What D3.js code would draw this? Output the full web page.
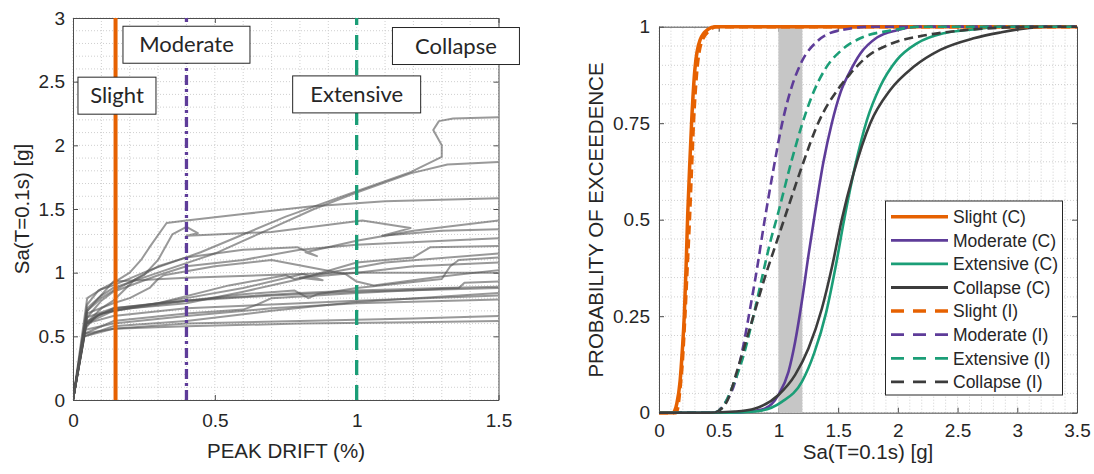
<!DOCTYPE html>
<html>
<head>
<meta charset="utf-8">
<script src="https://cdn.jsdelivr.net/npm/d3@7"></script>
<style>
  body { margin: 0; background: #fff; }
  svg text { font-family: "Liberation Sans", Arial, sans-serif; fill: #262626; }
</style>
</head>
<body>
<svg id="chart" width="1094" height="474"></svg>
<script>
// ---------------- data: left panel (pushover curves) ----------------
const driftTicks = [0, 0.5, 1, 1.5];
const saTicksLeft = [0, 0.5, 1, 1.5, 2, 2.5, 3];

// damage-state drift thresholds (%)
const stateNames = ['Slight', 'Moderate', 'Extensive', 'Collapse'];
const stateDrifts = [0.15, 0.4, 1.0, 2.0];
// label anchors (drift, Sa) for the boxed names
const labelDrifts = [0.155, 0.40, 1.0, 1.35];
const labelSas = [2.39, 2.79, 2.40, 2.78];

// each curve: [peak drift %, Sa g]
const pushoverCurves = [
  [[0,0],[0.05,0.8],[0.1,0.87],[0.142,0.9],[0.27,1.02],[0.45,1.16],[0.6,1.3],[0.75,1.44],[0.9,1.56],[1.0,1.64],[1.19,1.79],[1.30,1.91],[1.30,2.0],[1.27,2.12],[1.29,2.19],[1.34,2.21],[1.5,2.22]],
  [[0,0],[0.05,0.72],[0.1,0.82],[0.142,0.88],[0.3,1.0],[0.5,1.15],[0.7,1.35],[0.85,1.5],[1.0,1.63],[1.19,1.78],[1.32,1.85],[1.5,1.87]],
  [[0,0],[0.05,0.75],[0.09,0.86],[0.142,0.92],[0.2,1.0],[0.24,1.1],[0.27,1.2],[0.33,1.39],[0.4,1.41],[0.6,1.46],[0.835,1.52],[1.1,1.56],[1.5,1.585]],
  [[0,0],[0.05,0.7],[0.1,0.8],[0.142,0.86],[0.25,0.98],[0.3,1.1],[0.35,1.3],[0.4,1.36],[0.44,1.31],[0.4,1.29],[0.5,1.3],[0.7,1.32],[1.02,1.41],[1.19,1.35],[1.09,1.29],[1.3,1.33],[1.5,1.34]],
  [[0,0],[0.045,0.6],[0.1,0.72],[0.142,0.78],[0.22,0.95],[0.3,1.05],[0.4,1.12],[0.6,1.18],[0.79,1.2],[0.86,1.13],[0.82,1.16],[1.0,1.25],[1.2,1.33],[1.5,1.41]],
  [[0,0],[0.05,0.65],[0.1,0.78],[0.142,0.85],[0.3,0.98],[0.4,1.05],[0.6,1.1],[0.8,1.18],[1.0,1.22],[1.5,1.27]],
  [[0,0],[0.045,0.6],[0.1,0.68],[0.2,0.72],[0.4,0.76],[0.6,0.85],[0.8,0.95],[1.0,1.08],[1.2,1.12],[1.26,1.2],[1.5,1.21]],
  [[0,0],[0.05,0.62],[0.142,0.72],[0.4,0.78],[0.6,0.83],[0.78,0.86],[0.83,0.8],[0.86,0.83],[1.0,0.88],[1.3,0.95],[1.33,1.05],[1.36,1.1],[1.5,1.12]],
  [[0,0],[0.05,0.7],[0.142,0.93],[0.4,0.96],[0.8,0.99],[1.0,1.0],[1.3,1.0],[1.5,1.0]],
  [[0,0],[0.04,0.55],[0.08,0.66],[0.142,0.71],[0.3,0.76],[0.5,0.8],[0.8,0.84],[1.0,0.86],[1.3,0.88],[1.5,0.89]],
  [[0,0],[0.045,0.58],[0.09,0.67],[0.142,0.7],[0.4,0.78],[0.7,0.82],[1.0,0.85],[1.5,0.88]],
  [[0,0],[0.04,0.52],[0.142,0.62],[0.4,0.68],[0.6,0.71],[0.65,0.75],[0.7,0.8],[1.0,0.84],[1.36,0.88],[1.38,0.92],[1.5,0.93]],
  [[0,0],[0.04,0.5],[0.142,0.58],[0.4,0.62],[0.7,0.7],[1.0,0.77],[1.5,0.84]],
  [[0,0],[0.04,0.5],[0.142,0.56],[0.4,0.6],[0.8,0.62],[1.2,0.64],[1.5,0.66]],
  [[0,0],[0.04,0.52],[0.142,0.56],[0.4,0.58],[0.8,0.6],[1.2,0.61],[1.5,0.62]],
  [[0,0],[0.04,0.55],[0.142,0.6],[0.4,0.66],[0.7,0.72],[1.0,0.76],[1.5,0.79]],
  [[0,0],[0.045,0.6],[0.142,0.66],[0.4,0.72],[0.7,0.75],[1.0,0.78],[1.5,0.82]],
  [[0,0],[0.05,0.65],[0.142,0.72],[0.3,0.76],[0.55,0.9],[0.75,0.98],[0.78,0.95],[0.9,1.0],[1.1,1.08],[1.5,1.15]],
  [[0,0],[0.045,0.6],[0.142,0.7],[0.4,0.8],[0.6,0.88],[0.81,0.99],[0.88,0.94],[0.8,0.96],[1.0,1.0],[1.2,1.05],[1.5,1.08]],
  [[0,0],[0.05,0.68],[0.142,0.76],[0.2,0.8],[0.27,0.88],[0.3,0.95],[0.32,0.98],[0.5,1.05],[0.7,1.1],[0.96,0.99],[1.0,0.93],[1.06,0.9],[1.3,0.97],[1.5,1.02]]
];

// ---------------- data: right panel (fragility curves) ----------------
const saTicksRight = [0, 0.5, 1, 1.5, 2, 2.5, 3, 3.5];
const probTicks = [0, 0.25, 0.5, 0.75, 1];
const shadedBand = [1.0, 1.2];

// each curve: [Sa g, probability of exceedence]
const slightC = [[0,0],[0.12,0],[0.134,0.007],[0.15,0.025],[0.176,0.08],[0.195,0.16],[0.212,0.253],[0.227,0.38],[0.24,0.51],[0.257,0.64],[0.274,0.758],[0.3,0.888],[0.344,0.966],[0.41,0.993],[0.47,1],[3.5,1]];
const moderateC = [[0,0],[0.6,0],[0.75,0.003],[0.888,0.011],[1.0,0.046],[1.084,0.106],[1.14,0.184],[1.196,0.288],[1.252,0.409],[1.3,0.505],[1.377,0.65],[1.447,0.75],[1.52,0.83],[1.601,0.885],[1.685,0.93],[1.825,0.972],[1.992,0.991],[2.16,1],[3.5,1]];
const extensiveC = [[0,0],[0.6,0],[0.805,0.003],[1.028,0.028],[1.196,0.08],[1.3,0.155],[1.4,0.26],[1.48,0.38],[1.55,0.5],[1.643,0.64],[1.741,0.758],[1.852,0.845],[1.992,0.914],[2.16,0.957],[2.383,0.983],[2.635,0.993],[2.86,1],[3.5,1]];
const collapseC = [[0,0],[0.4,0],[0.637,0.003],[0.805,0.011],[1.0,0.046],[1.14,0.098],[1.252,0.167],[1.364,0.27],[1.45,0.38],[1.53,0.5],[1.629,0.62],[1.769,0.75],[1.936,0.836],[2.132,0.896],[2.355,0.94],[2.635,0.97],[2.858,0.985],[3.1,0.997],[3.3,1],[3.5,1]];
const slightI = [[0,0],[0.14,0],[0.155,0.01],[0.175,0.06],[0.195,0.13],[0.215,0.24],[0.235,0.37],[0.255,0.5],[0.272,0.63],[0.29,0.76],[0.315,0.88],[0.355,0.96],[0.42,0.99],[0.48,1],[3.5,1]];
const moderateI = [[0,0],[0.45,0],[0.5,0.005],[0.54,0.02],[0.637,0.08],[0.707,0.175],[0.763,0.27],[0.819,0.37],[0.88,0.49],[0.958,0.63],[1.028,0.745],[1.112,0.845],[1.196,0.91],[1.335,0.965],[1.503,0.99],[1.8,1],[3.5,1]];
const extensiveI = [[0,0],[0.45,0],[0.52,0.01],[0.609,0.063],[0.7,0.14],[0.805,0.27],[0.87,0.36],[0.93,0.44],[1.0,0.52],[1.112,0.655],[1.196,0.745],[1.28,0.82],[1.391,0.89],[1.531,0.94],[1.685,0.97],[1.936,0.99],[2.215,1],[3.5,1]];
const collapseI = [[0,0],[0.45,0],[0.5,0.005],[0.567,0.028],[0.665,0.12],[0.777,0.236],[0.888,0.352],[0.99,0.447],[1.09,0.54],[1.196,0.637],[1.335,0.752],[1.503,0.84],[1.601,0.878],[1.741,0.922],[1.936,0.955],[2.215,0.977],[2.495,0.989],[2.83,0.997],[3.2,1],[3.5,1]];

const fragilityNames = ['Slight (C)', 'Moderate (C)', 'Extensive (C)', 'Collapse (C)',
                        'Slight (I)', 'Moderate (I)', 'Extensive (I)', 'Collapse (I)'];
const fragilityCurves = [slightC, moderateC, extensiveC, collapseC, slightI, moderateI, extensiveI, collapseI];

// ---------------- styles ----------------
const colors = ['#e66101', '#5e3c99', '#1b9e77', '#3c3c3c'];
const svg = d3.select('#chart');
const fmt = d => d3.format('~g')(d);

// grid + box + ticks for one panel
function drawFrame(x, y, xTicks, yTicks, xMinor, yMinor, xPad, yPad) {
  const g = svg.append('g');
  const [x0, x1] = x.range();
  const [y0, y1] = y.range();
  const xd = x.domain(), yd = y.domain();

  //minor + major grid (dotted)
  g.selectAll('.vx').data(d3.range(xd[0], xd[1] + 1e-9, xMinor)).enter().append('line')
    .attr('x1', d => x(d)).attr('x2', d => x(d)).attr('y1', y0).attr('y2', y1)
    .attr('stroke', '#cfcfcf').attr('stroke-width', 1).attr('stroke-dasharray', '1,2');
  g.selectAll('.hy').data(d3.range(yd[0], yd[1] + 1e-9, yMinor)).enter().append('line')
    .attr('y1', d => y(d)).attr('y2', d => y(d)).attr('x1', x0).attr('x2', x1)
    .attr('stroke', '#cfcfcf').attr('stroke-width', 1).attr('stroke-dasharray', '1,2');

  const axisStyle = sel => {
    sel.selectAll('path').attr('stroke', '#4d4d4d');
    sel.selectAll('line').attr('stroke', '#4d4d4d');
    sel.selectAll('text').attr('font-size', 19).attr('fill', '#262626')
      .style('font-family', '"Liberation Sans", Arial, sans-serif');
  };

  svg.append('g').attr('transform', `translate(0,${y0})`)
    .call(d3.axisBottom(x).tickValues(xTicks).tickFormat(fmt).tickSize(-5).tickSizeOuter(0).tickPadding(xPad))
    .call(axisStyle);
  svg.append('g').attr('transform', `translate(${x0},0)`)
    .call(d3.axisLeft(y).tickValues(yTicks).tickFormat(fmt).tickSize(-5).tickSizeOuter(0).tickPadding(yPad))
    .call(axisStyle);
  svg.append('g').attr('transform', `translate(0,${y1})`)
    .call(d3.axisTop(x).tickValues(xTicks).tickFormat('').tickSize(-5).tickSizeOuter(0))
    .call(axisStyle);
  svg.append('g').attr('transform', `translate(${x1},0)`)
    .call(d3.axisRight(y).tickValues(yTicks).tickFormat('').tickSize(-5).tickSizeOuter(0))
    .call(axisStyle);
  return g;
}

// ================= LEFT PANEL =================
const xL = d3.scaleLinear().domain([0, 1.5]).range([73, 498.5]);
const yL = d3.scaleLinear().domain([0, 3]).range([400, 18]);

drawFrame(xL, yL, driftTicks, saTicksLeft, 0.1, 0.1, 14, 8);

svg.append('clipPath').attr('id', 'clipL').append('rect')
  .attr('x', xL(0)).attr('y', yL(3)).attr('width', xL(1.5) - xL(0)).attr('height', yL(0) - yL(3));

const lineL = d3.line().x(d => xL(d[0])).y(d => yL(d[1]));
svg.append('g').attr('clip-path', 'url(#clipL)')
  .selectAll('path').data(pushoverCurves).enter().append('path')
    .attr('d', lineL)
    .attr('fill', 'none')
    .attr('stroke', '#555')
    .attr('stroke-opacity', 0.6)
    .attr('stroke-width', 2)
    .attr('stroke-linejoin', 'round');

// damage state threshold lines
const stateDash = [null, '10,4,3,4', '15,10', '15,10'];
svg.append('g').attr('clip-path', 'url(#clipL)')
  .selectAll('line').data(stateDrifts).enter().append('line')
    .attr('x1', d => xL(d)).attr('x2', d => xL(d))
    .attr('y1', yL(0)).attr('y2', yL(3))
    .attr('stroke', (d, i) => colors[i])
    .attr('stroke-width', (d, i) => i === 0 ? 4 : 3.3)
    .attr('stroke-dasharray', (d, i) => stateDash[i]);

// boxed labels
const boxW = [78, 127, 128, 127];
const labels = svg.append('g').selectAll('g').data(stateNames).enter().append('g')
  .attr('transform', (d, i) => `translate(${xL(labelDrifts[i])},${yL(labelSas[i])})`);
labels.append('rect')
  .attr('x', (d, i) => -boxW[i] / 2).attr('y', -18.5)
  .attr('width', (d, i) => boxW[i]).attr('height', 37)
  .attr('fill', '#fff').attr('stroke', '#262626').attr('stroke-width', 1);
labels.append('text')
  .attr('text-anchor', 'middle').attr('y', 7.5)
  .style('font-family', 'Lato, "Open Sans", sans-serif').attr('font-size', 22)
  .attr('fill', '#111')
  .text(d => d);

// axis titles
svg.append('text').attr('x', 286).attr('y', 458).attr('text-anchor', 'middle')
  .attr('font-size', 20.5).attr('fill', '#333').text('PEAK DRIFT (%)');
svg.append('text').attr('transform', 'translate(29,209) rotate(-90)').attr('text-anchor', 'middle')
  .attr('font-size', 20.5).attr('fill', '#333').text('Sa(T=0.1s) [g]');

// ================= RIGHT PANEL =================
const xR = d3.scaleLinear().domain([0, 3.5]).range([659, 1077]);
const yR = d3.scaleLinear().domain([0, 1]).range([412.7, 26.7]);

drawFrame(xR, yR, saTicksRight, probTicks, 0.1, 0.05, 11, 9);

svg.append('rect')
  .attr('x', xR(shadedBand[0])).attr('y', yR(1))
  .attr('width', xR(shadedBand[1]) - xR(shadedBand[0])).attr('height', yR(0) - yR(1))
  .attr('fill', '#c6c6c6');

const lineR = d3.line().x(d => xR(d[0])).y(d => yR(d[1])).curve(d3.curveMonotoneX);
svg.append('g').selectAll('path').data(fragilityCurves).enter().append('path')
  .attr('d', lineR)
  .attr('fill', 'none')
  .attr('stroke', (d, i) => colors[i % 4])
  .attr('stroke-width', (d, i) => i % 4 === 0 ? 3.5 : 2.6)
  .attr('stroke-dasharray', (d, i) => i < 4 ? null : '9,5');

// legend
const legend = svg.append('g');
legend.append('rect').attr('x', 885.5).attr('y', 201).attr('width', 177).attr('height', 194)
  .attr('fill', '#fff').attr('stroke', '#262626').attr('stroke-width', 1);
const rows = legend.selectAll('g.row').data(fragilityNames).enter().append('g')
  .attr('transform', (d, i) => `translate(0,${216.7 + i * 23.6})`);
rows.append('line').attr('x1', 891).attr('x2', 948).attr('y1', 0).attr('y2', 0)
  .attr('stroke', (d, i) => colors[i % 4])
  .attr('stroke-width', (d, i) => i % 4 === 0 ? 3.5 : 2.8)
  .attr('stroke-dasharray', (d, i) => i < 4 ? null : '13,9');
rows.append('text').attr('x', 953).attr('y', 6.2).attr('font-size', 17.5).attr('fill', '#111')
  .text(d => d);

// axis titles
svg.append('text').attr('x', 868).attr('y', 459).attr('text-anchor', 'middle')
  .attr('font-size', 20.5).attr('fill', '#333').text('Sa(T=0.1s) [g]');
svg.append('text').attr('transform', 'translate(603,220) rotate(-90)').attr('text-anchor', 'middle')
  .attr('font-size', 20.5).attr('fill', '#333').text('PROBABILITY OF EXCEEDENCE');
</script>
</body>
</html>
